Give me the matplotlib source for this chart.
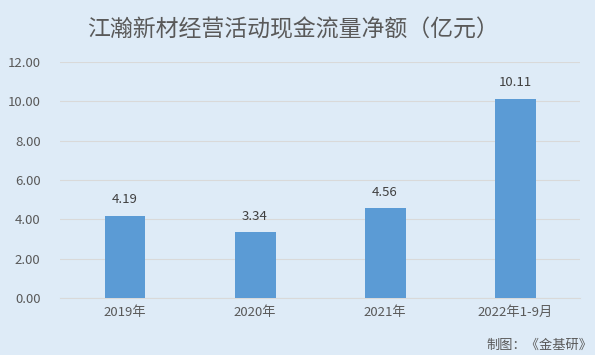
import matplotlib
matplotlib.use('Agg')
import matplotlib.pyplot as plt

categories = ['2019年', '2020年', '2021年', '2022年1-9月']
values = [4.19, 3.34, 4.56, 10.11]
yticks = [0, 2, 4, 6, 8, 10, 12]

plt.rcParams['font.family'] = ['Noto Sans CJK SC', 'DejaVu Sans']

bg = '#DEEBF7'
fig = plt.figure(figsize=(5.95, 3.55), dpi=100, facecolor=bg)
ax = fig.add_axes([0.1008, 0.1606, 0.8742, 0.6648], facecolor=bg)

x = range(len(categories))
ax.bar(x, values, width=0.315, color='#5B9BD5', zorder=3)
for i, v in zip(x, values):
    ax.annotate(f'{v:.2f}', (i, v), textcoords='offset points', xytext=(0, 7),
                ha='center', va='bottom', fontsize=9.5, color='#404040')

ax.set_xlim(-0.5, len(categories) - 0.5)
ax.set_ylim(0, 12)
ax.set_yticks(yticks)
ax.set_yticklabels([f'{t:.2f}' for t in yticks])
ax.set_xticks(list(x))
ax.set_xticklabels(categories)
ax.tick_params(axis='both', length=0, labelsize=9.5, colors='#595959')
ax.tick_params(axis='y', pad=14)
ax.tick_params(axis='x', pad=6)
ax.grid(axis='y', color='#D9D9D9', linewidth=0.8, zorder=0)
for s in ['top', 'right', 'left']:
    ax.spines[s].set_visible(False)
ax.spines['bottom'].set_color('#D9D9D9')

fig.text(0.492, 0.917, '江瀚新材经营活动现金流量净额（亿元）', ha='center', va='center',
         fontsize=16.5, color='#595959')
fig.text(0.995, 0.028, '制图：《金基研》', ha='right', va='center',
         fontsize=9.5, color='#595959')

fig.savefig('out.png', dpi=100, facecolor=bg)
